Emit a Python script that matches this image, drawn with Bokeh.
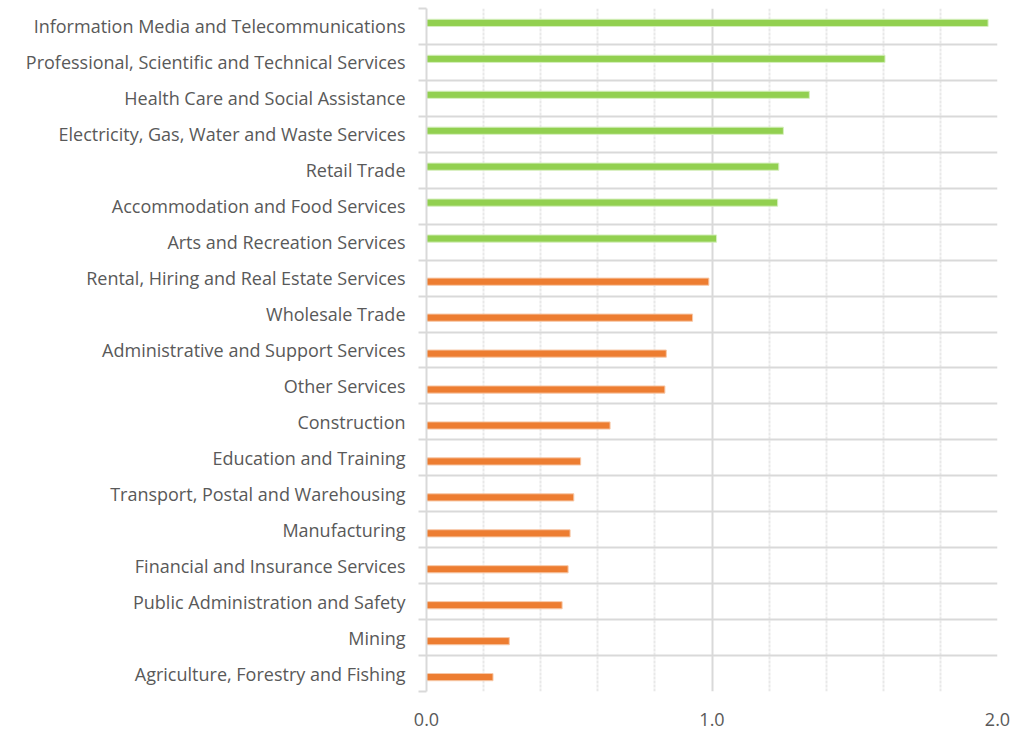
from bokeh.plotting import figure
from bokeh.models import Range1d, FixedTicker, ColumnDataSource
from bokeh.embed import file_html
from bokeh.resources import INLINE

# Categories listed top to bottom
categories = [
    "Information Media and Telecommunications",
    "Professional, Scientific and Technical Services",
    "Health Care and Social Assistance",
    "Electricity, Gas, Water and Waste Services",
    "Retail Trade",
    "Accommodation and Food Services",
    "Arts and Recreation Services",
    "Rental, Hiring and Real Estate Services",
    "Wholesale Trade",
    "Administrative and Support Services",
    "Other Services",
    "Construction",
    "Education and Training",
    "Transport, Postal and Warehousing",
    "Manufacturing",
    "Financial and Insurance Services",
    "Public Administration and Safety",
    "Mining",
    "Agriculture, Forestry and Fishing",
]
# Series 1 (green) and series 2 (orange); None where the series has no bar
series_green = [1.967, 1.606, 1.341, 1.250, 1.234, 1.230, 1.016,
                None, None, None, None, None, None, None, None, None, None, None, None]
series_orange = [None, None, None, None, None, None, None,
                 0.989, 0.932, 0.840, 0.835, 0.643, 0.540, 0.516, 0.503, 0.496, 0.475, 0.290, 0.233]
x_ticks = [0.0, 1.0, 2.0]
x_tick_labels = ["0.0", "1.0", "2.0"]

GREEN = "#92D050"
ORANGE = "#ED7D31"
GRID = "#d9d9d9"
TEXT = "#595959"
FONT = "Open Sans"

n = len(categories)
ypos = [n - 1 - i for i in range(n)]

p = figure(width=1013, height=731, output_backend="svg", toolbar_location=None,
           x_range=Range1d(0, 2), y_range=Range1d(-0.5, n - 0.5),
           min_border_left=426, min_border_right=16, min_border_top=8,
           min_border_bottom=40)
p.outline_line_color = None
p.background_fill_color = "white"
p.border_fill_color = "white"

bar_h = 0.2
g = [(y, v) for y, v in zip(ypos, series_green) if v is not None]
o = [(y, v) for y, v in zip(ypos, series_orange) if v is not None]
src_g = ColumnDataSource(dict(y=[a + bar_h / 2 for a, _ in g], v=[b for _, b in g]))
src_o = ColumnDataSource(dict(y=[a - bar_h / 2 for a, _ in o], v=[b for _, b in o]))
p.hbar(y="y", right="v", left=0, height=bar_h, source=src_g,
       fill_color=GREEN, line_color="#d6efbf", line_width=1)
p.hbar(y="y", right="v", left=0, height=bar_h, source=src_o,
       fill_color=ORANGE, line_color="#f7c9a9", line_width=1)

# X axis
p.xaxis.ticker = FixedTicker(ticks=x_ticks,
                             minor_ticks=[i / 5 for i in range(1, 10) if i != 5])
p.xaxis.major_label_overrides = {t: l for t, l in zip(x_ticks, x_tick_labels)}
p.xaxis.axis_line_color = None
p.xaxis.major_tick_line_color = None
p.xaxis.minor_tick_line_color = None
p.xaxis.major_label_text_font = FONT
p.xaxis.major_label_text_font_size = "18px"
p.xaxis.major_label_text_color = TEXT
p.xaxis.major_label_standoff = 15

p.xgrid.grid_line_color = GRID
p.xgrid.grid_line_width = 2
p.xgrid.minor_grid_line_color = "#e8e8e8"
p.xgrid.minor_grid_line_width = 2
p.xgrid.minor_grid_line_dash = "3 1"

# Y axis: labels at category centres, tick marks at category boundaries
boundaries = [k - 0.5 for k in range(n + 1)]
p.yaxis.ticker = FixedTicker(ticks=ypos, minor_ticks=boundaries)
p.yaxis.major_label_overrides = {y: c for y, c in zip(ypos, categories)}
p.yaxis.axis_line_color = GRID
p.yaxis.axis_line_width = 2
p.yaxis.major_tick_line_color = None
p.yaxis.minor_tick_line_color = GRID
p.yaxis.minor_tick_line_width = 2
p.yaxis.minor_tick_out = 8
p.yaxis.minor_tick_in = 0
p.yaxis.major_label_standoff = 13
p.yaxis.major_label_text_font = FONT
p.yaxis.major_label_text_font_size = "18px"
p.yaxis.major_label_text_color = TEXT

p.ygrid.ticker = FixedTicker(ticks=boundaries)
p.ygrid.grid_line_color = GRID
p.ygrid.grid_line_width = 2

open("out.html", "w").write(file_html(p, INLINE))
